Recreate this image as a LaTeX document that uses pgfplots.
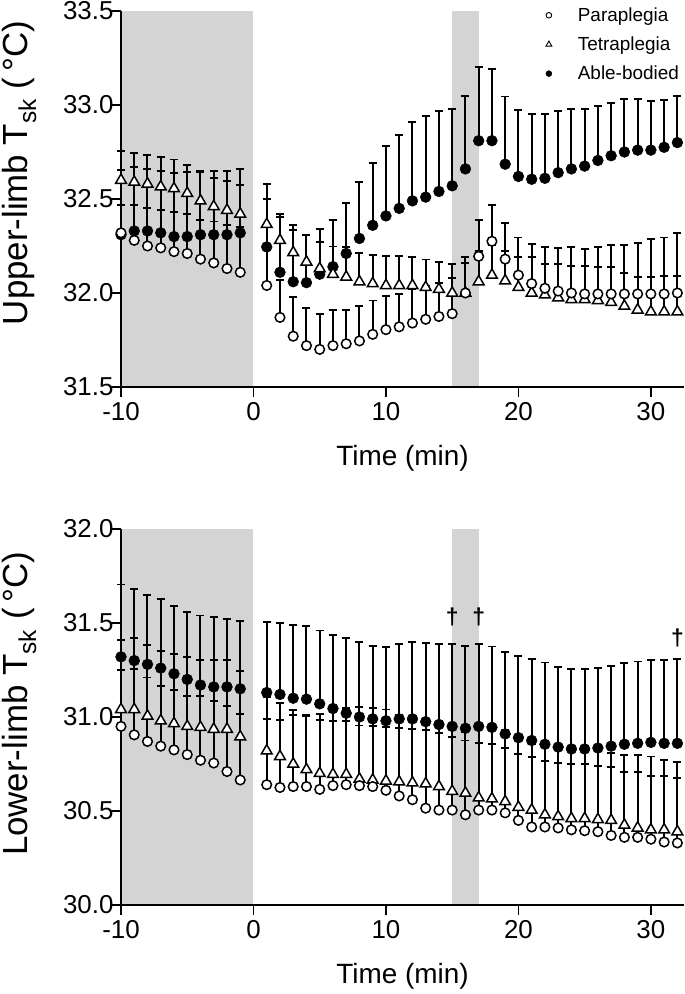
\documentclass[border=0pt]{standalone}
\usepackage{fontspec}
\setmainfont{Liberation Sans}
\usepackage{pgfplots}
\usepackage{pgfplotstable}
\pgfplotsset{compat=1.18}
\definecolor{shade}{RGB}{212,212,212}

% ---------- Upper limb ----------
\pgfplotstableread{
x y e
-10 32.32 0.15
-9 32.28 0.19
-8 32.25 0.20
-7 32.24 0.20
-6 32.22 0.21
-5 32.21 0.21
-4 32.18 0.21
-3 32.16 0.22
-2 32.13 0.23
-1 32.11 0.24
1 32.04 0.20
2 31.87 0.20
3 31.77 0.21
4 31.72 0.20
5 31.70 0.19
6 31.72 0.19
7 31.73 0.18
8 31.745 0.185
9 31.78 0.18
10 31.805 0.18
11 31.82 0.175
12 31.84 0.18
13 31.86 0.18
14 31.875 0.18
15 31.89 0.19
16 32.00 0.19
17 32.195 0.195
18 32.275 0.195
19 32.18 0.19
20 32.095 0.20
21 32.05 0.21
22 32.025 0.22
23 32.01 0.23
24 32.00 0.245
25 31.995 0.24
26 31.995 0.25
27 31.995 0.26
28 31.995 0.26
29 31.995 0.27
30 31.995 0.29
31 31.995 0.30
32 32.00 0.32
}\topPara

\pgfplotstableread{
x y e
-10 32.60 0.155
-9 32.59 0.155
-8 32.58 0.155
-7 32.565 0.16
-6 32.555 0.155
-5 32.53 0.15
-4 32.49 0.155
-3 32.46 0.15
-2 32.44 0.155
-1 32.42 0.155
1 32.365 0.137
2 32.28 0.124
3 32.215 0.12
4 32.165 0.145
5 32.13 0.14
6 32.10 0.147
7 32.085 0.16
8 32.06 0.152
9 32.05 0.15
10 32.04 0.156
11 32.04 0.156
12 32.04 0.15
13 32.03 0.148
14 32.02 0.147
15 32.00 0.156
16 32.00 0.16
17 32.06 0.165
18 32.095 0.16
19 32.065 0.16
20 32.03 0.16
21 32.00 0.19
22 31.99 0.165
23 31.975 0.18
24 31.965 0.18
25 31.965 0.18
26 31.96 0.18
27 31.95 0.186
28 31.93 0.174
29 31.91 0.177
30 31.90 0.186
31 31.90 0.19
32 31.90 0.19
}\topTetra

\pgfplotstableread{
x y e
-10 32.31 0.345
-9 32.33 0.34
-8 32.33 0.33
-7 32.32 0.33
-6 32.30 0.34
-5 32.30 0.345
-4 32.31 0.34
-3 32.31 0.34
-2 32.31 0.34
-1 32.32 0.34
1 32.245 0.333
2 32.11 0.31
3 32.06 0.30
4 32.055 0.255
5 32.10 0.24
6 32.14 0.25
7 32.21 0.27
8 32.29 0.30
9 32.36 0.33
10 32.41 0.37
11 32.45 0.39
12 32.49 0.42
13 32.51 0.43
14 32.54 0.43
15 32.57 0.41
16 32.66 0.39
17 32.81 0.39
18 32.81 0.38
19 32.685 0.36
20 32.62 0.355
21 32.605 0.345
22 32.61 0.34
23 32.64 0.33
24 32.66 0.32
25 32.675 0.305
26 32.705 0.29
27 32.73 0.28
28 32.75 0.28
29 32.76 0.27
30 32.76 0.26
31 32.775 0.25
32 32.80 0.25
}\topAble

% ---------- Lower limb ----------
\pgfplotstableread{
x y e
-10 30.95 0.30
-9 30.905 0.35
-8 30.87 0.34
-7 30.845 0.32
-6 30.825 0.32
-5 30.80 0.31
-4 30.77 0.34
-3 30.755 0.33
-2 30.71 0.35
-1 30.665 0.35
1 30.64 0.35
2 30.625 0.36
3 30.63 0.38
4 30.63 0.38
5 30.615 0.40
6 30.635 0.41
7 30.64 0.41
8 30.635 0.42
9 30.63 0.42
10 30.61 0.43
11 30.58 0.43
12 30.56 0.44
13 30.515 0.44
14 30.505 0.44
15 30.505 0.44
16 30.48 0.44
17 30.505 0.44
18 30.505 0.44
19 30.49 0.44
20 30.45 0.44
21 30.415 0.44
22 30.415 0.44
23 30.41 0.44
24 30.40 0.44
25 30.395 0.44
26 30.39 0.44
27 30.37 0.44
28 30.36 0.44
29 30.36 0.437
30 30.35 0.44
31 30.335 0.436
32 30.33 0.43
}\botPara

\pgfplotstableread{
x y e
-10 31.04 0.37
-9 31.04 0.38
-8 31.005 0.38
-7 30.98 0.37
-6 30.965 0.37
-5 30.95 0.37
-4 30.945 0.36
-3 30.935 0.37
-2 30.935 0.37
-1 30.895 0.35
1 30.82 0.285
2 30.79 0.285
3 30.75 0.285
4 30.72 0.285
5 30.70 0.285
6 30.695 0.285
7 30.695 0.285
8 30.67 0.285
9 30.665 0.285
10 30.66 0.285
11 30.655 0.285
12 30.65 0.285
13 30.645 0.285
14 30.63 0.285
15 30.605 0.29
16 30.595 0.28
17 30.57 0.29
18 30.565 0.29
19 30.55 0.285
20 30.52 0.285
21 30.505 0.28
22 30.48 0.286
23 30.47 0.287
24 30.46 0.288
25 30.46 0.288
26 30.455 0.284
27 30.45 0.282
28 30.425 0.284
29 30.41 0.299
30 30.40 0.286
31 30.40 0.286
32 30.39 0.284
}\botTetra

\pgfplotstableread{
x y e
-10 31.32 0.385
-9 31.30 0.38
-8 31.28 0.37
-7 31.26 0.37
-6 31.23 0.36
-5 31.20 0.36
-4 31.17 0.37
-3 31.16 0.37
-2 31.16 0.36
-1 31.15 0.36
1 31.13 0.375
2 31.12 0.38
3 31.10 0.39
4 31.095 0.39
5 31.07 0.39
6 31.045 0.39
7 31.02 0.40
8 31.00 0.40
9 30.99 0.39
10 30.98 0.39
11 30.99 0.40
12 30.99 0.41
13 30.975 0.42
14 30.96 0.43
15 30.95 0.44
16 30.94 0.44
17 30.95 0.44
18 30.945 0.43
19 30.91 0.435
20 30.89 0.435
21 30.875 0.435
22 30.855 0.435
23 30.84 0.425
24 30.83 0.425
25 30.83 0.425
26 30.835 0.425
27 30.845 0.425
28 30.855 0.43
29 30.86 0.435
30 30.865 0.44
31 30.86 0.445
32 30.86 0.447
}\botAble

\pgfplotsset{
  panel/.style={
    scale only axis, width=563bp, height=376bp,
    xmin=-10, xmax=32.5,
    axis line style={draw=none},
    xtick pos=left, ytick pos=left,
    tick align=outside, major tick length=10bp,
    tick style={line width=1.8bp, black},
    xtick={-10,0,10,20,30}, xticklabels={-10,0,10,20,30},
    minor tick num=0,
    tick label style={font=\fontsize{26}{30}\selectfont},
    xticklabel style={yshift=-2bp},
    yticklabel style={xshift=6bp},
    xlabel={Time (min)},
    every axis x label/.style={at={(axis description cs:0.5,-0.19)}, anchor=center,
      font=\fontsize{28}{34}\selectfont},
    clip=false,
  },
  aline/.style={black, line width=1.8bp, mark=none, forget plot},
  ebar/.style={only marks, mark=none, forget plot,
    error bars/.cd, y dir=plus, y explicit,
    error bar style={line width=2bp, black, solid},
    error mark options={rotate=90, mark size=4bp, line width=1.9bp, black, solid}},
  pmark/.style={only marks, mark=*, mark size=4.8bp,
    mark options={fill=white, draw=black, line width=1.5bp, solid}, forget plot},
  tmark/.style={only marks, mark=triangle*, mark size=6.2bp,
    mark options={fill=white, draw=black, line width=1.5bp, solid}, forget plot},
  amark/.style={only marks, mark=*, mark size=5.4bp,
    mark options={fill=black, draw=black, line width=0.5bp, solid}, forget plot},
}

\begin{document}
\begin{tikzpicture}[x=1bp,y=1bp]
\path[use as bounding box] (0,0) rectangle (685,994);

% ===== Top panel =====
\begin{axis}[panel,
  at={(121bp,607bp)}, anchor=south west,
  ymin=31.5, ymax=33.5,
  ytick={31.5,32,32.5,33,33.5}, yticklabels={31.5,32.0,32.5,33.0,33.5},
  ylabel={Upper-limb T\textsubscript{sk} (\thinspace°C)},
  every axis y label/.style={at={(axis description cs:-0.181,0.569)}, rotate=90, anchor=center,
     font=\fontsize{35}{40}\selectfont},
  legend style={at={(axis description cs:0.749,1.02)}, anchor=north west,
    draw=none, fill=none, font=\fontsize{19}{23}\selectfont,
    row sep=10bp, column sep=24bp},
  legend cell align=left,
]
\addplot[fill=shade, draw=none, forget plot] coordinates {(-10,31.5) (0,31.5) (0,33.5) (-10,33.5)} -- cycle;
\addplot[fill=shade, draw=none, forget plot] coordinates {(15,31.5) (17,31.5) (17,33.5) (15,33.5)} -- cycle;
\addplot[aline] coordinates {(-10,33.5) (-10,31.5) (32.5,31.5)};

\addplot[ebar] table[x=x, y=y, y error=e] {\topPara};
\addplot[ebar] table[x=x, y=y, y error=e] {\topTetra};
\addplot[ebar] table[x=x, y=y, y error=e] {\topAble};

\addplot[amark] table[x=x, y=y] {\topAble};
\addplot[tmark] table[x=x, y=y] {\topTetra};
\addplot[pmark] table[x=x, y=y] {\topPara};

\addlegendimage{only marks, mark=*, mark size=2.8bp, mark options={fill=white, draw=black, line width=0.9bp}}
\addlegendentry{Paraplegia}
\addlegendimage{only marks, mark=triangle*, mark size=3.4bp, mark options={fill=white, draw=black, line width=0.9bp}}
\addlegendentry{Tetraplegia}
\addlegendimage{only marks, mark=*, mark size=3bp, mark options={fill=black, draw=black}}
\addlegendentry{Able-bodied}
\end{axis}

% ===== Bottom panel =====
\begin{axis}[panel,
  at={(121bp,89bp)}, anchor=south west,
  ymin=30, ymax=32,
  ytick={30,30.5,31,31.5,32}, yticklabels={30.0,30.5,31.0,31.5,32.0},
  ylabel={Lower-limb T\textsubscript{sk} (\thinspace°C)},
  every axis y label/.style={at={(axis description cs:-0.181,0.535)}, rotate=90, anchor=center,
     font=\fontsize{35}{40}\selectfont},
]
\addplot[fill=shade, draw=none, forget plot] coordinates {(-10,30) (0,30) (0,32) (-10,32)} -- cycle;
\addplot[fill=shade, draw=none, forget plot] coordinates {(15,30) (17,30) (17,32) (15,32)} -- cycle;
\addplot[aline] coordinates {(-10,32) (-10,30) (32.5,30)};

\addplot[ebar] table[x=x, y=y, y error=e] {\botPara};
\addplot[ebar] table[x=x, y=y, y error=e] {\botTetra};
\addplot[ebar] table[x=x, y=y, y error=e] {\botAble};

\addplot[amark] table[x=x, y=y] {\botAble};
\addplot[tmark] table[x=x, y=y] {\botTetra};
\addplot[pmark] table[x=x, y=y] {\botPara};

\node[font=\fontsize{23}{26}\selectfont\bfseries] at (axis cs:15,31.53) {†};
\node[font=\fontsize{23}{26}\selectfont\bfseries] at (axis cs:17,31.53) {†};
\node[font=\fontsize{23}{26}\selectfont\bfseries] at (axis cs:32,31.42) {†};
\end{axis}
\end{tikzpicture}
\end{document}
